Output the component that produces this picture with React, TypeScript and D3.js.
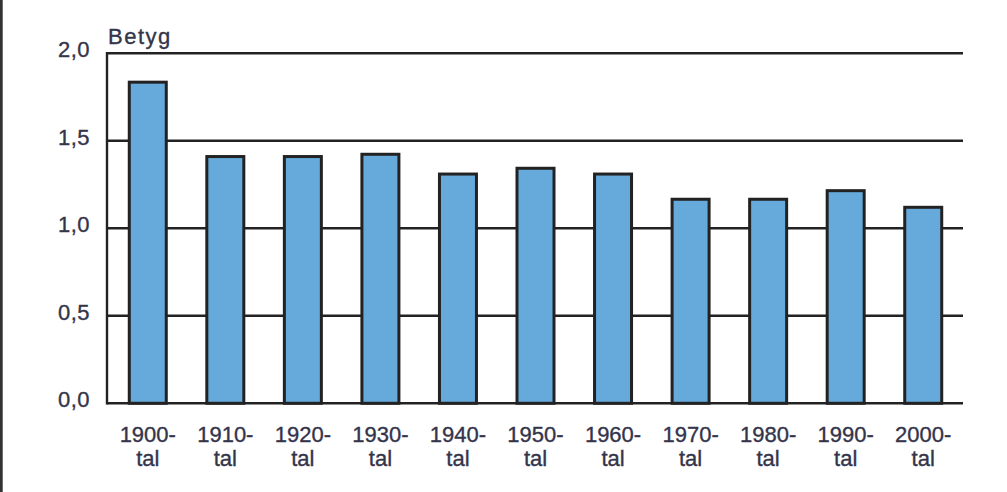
import React from "react";
import * as d3 from "d3";

const categories = ["1900", "1910", "1920", "1930", "1940", "1950", "1960", "1970", "1980", "1990", "2000"];
const values = [1.835, 1.41, 1.41, 1.423, 1.31, 1.343, 1.31, 1.166, 1.166, 1.215, 1.12];
const yTicks = [0, 0.5, 1.0, 1.5, 2.0];
const yTickLabels = ["0,0", "0,5", "1,0", "1,5", "2,0"];
const yAxisTitle = "Betyg";
const xSuffix = "tal";

const W = 1007;
const H = 492;
const FONT = "'Liberation Sans', Arial, sans-serif";
const TEXT = "#34344a";
const LINE = "#222222";

export default function App() {
  const x = d3.scaleBand<string>().domain(categories).range([109, 962]).paddingInner(0.5).paddingOuter(0.25);
  const y = d3.scaleLinear().domain([0, 2]).range([403.3, 53.3]);
  const bw = 37;
  const textProps = { fontFamily: FONT, fontSize: 22, fill: TEXT, stroke: TEXT, strokeWidth: 0.35 };
  return (
    <svg width={W} height={H} style={{ position: "absolute", left: 0, top: 0, background: "#fff" }}>
      <rect x={0} y={0} width={W} height={H} fill="#ffffff" />
      <rect x={0} y={0} width={2.7} height={H} fill="#333333" />
      {yTicks.map((t, i) => (
        <g key={t}>
          <line x1={107} x2={963} y1={y(t)} y2={y(t)} stroke={LINE} strokeWidth={2.4} />
          <text x={90} y={y(t) + 4} textAnchor="end" {...textProps} letterSpacing={0.5}>
            {yTickLabels[i]}
          </text>
        </g>
      ))}
      <line x1={107} x2={107} y1={y(2) - 1.2} y2={y(0) + 1.2} stroke={LINE} strokeWidth={2.4} />
      <text x={108} y={44} {...textProps} letterSpacing={1.5}>
        {yAxisTitle}
      </text>
      {categories.map((c, i) => {
        const cx = (x(c) as number) + x.bandwidth() / 2;
        return (
          <g key={c}>
            <rect
              x={cx - bw / 2}
              y={y(values[i])}
              width={bw}
              height={y(0) - y(values[i])}
              fill="#66a9db"
              stroke={LINE}
              strokeWidth={3}
            />
            <text x={cx} y={442} textAnchor="middle" {...textProps}>
              {c + "-"}
            </text>
            <text x={cx} y={466} textAnchor="middle" {...textProps}>
              {xSuffix}
            </text>
          </g>
        );
      })}
    </svg>
  );
}
